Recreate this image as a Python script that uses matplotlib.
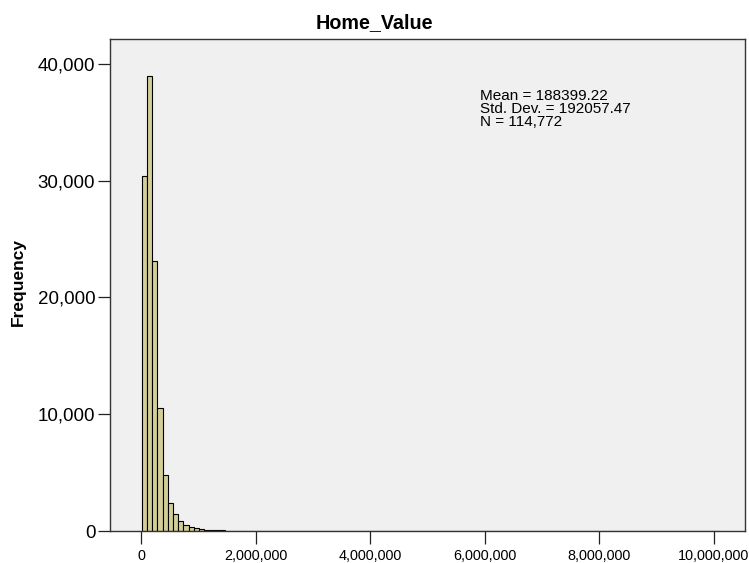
import numpy as np
import matplotlib
matplotlib.use('Agg')
import matplotlib.pyplot as plt
from matplotlib.ticker import FuncFormatter

plt.rcParams['font.family'] = ['Liberation Sans', 'DejaVu Sans']

# histogram of Home_Value, counts per bin
bin_start = 10000
bin_width = 91000
counts = [30430, 38970, 23150, 10540, 4800, 2420, 1430, 830, 510, 370, 230, 150,
          110, 80, 60, 45, 35, 28, 22, 18, 15,
          12, 10, 9, 8, 6, 7, 5, 4, 5, 3,
          3, 2, 3, 2, 2, 1, 2, 1, 1, 1,
          2, 1, 1, 0, 1, 2, 1, 1, 1, 0,
          1, 1, 2, 1, 1, 1, 1, 2, 1, 1,
          1, 1, 1, 2, 1, 1, 1, 1, 1, 1,
          1, 1, 1, 1, 0, 1, 1, 1, 1, 1,
          1, 1, 1, 1, 1, 1, 1, 1, 1, 2,
          2, 0, 0, 0, 2, 1, 0, 0, 0, 0,
          0, 0, 0, 0, 0, 0, 0, 0, 0, 1]

title = 'Home_Value'
stats_lines = ['Mean = 188399.22', 'Std. Dev. = 192057.47', 'N = 114,772']
x_ticks = [0, 2000000, 4000000, 6000000, 8000000, 10000000]
y_ticks = [0, 10000, 20000, 30000, 40000]

counts = np.array(counts)
edges = bin_start + np.arange(len(counts)) * bin_width

fig = plt.figure(figsize=(7.49, 5.63), dpi=100)
ax = fig.add_axes([110 / 749, 1 - 531 / 563, 635 / 749, 492 / 563])
ax.set_facecolor('#f0f0f0')

ax.bar(edges, counts, width=bin_width, align='edge', color='#d3ce97',
       edgecolor='black', linewidth=0.8)

ax.set_xlim(-545000, 10550000)
ax.set_ylim(0, 42140)
ax.set_xticks(x_ticks)
ax.set_yticks(y_ticks)
fmt = FuncFormatter(lambda v, p: f'{int(v):,}')
ax.xaxis.set_major_formatter(fmt)
ax.yaxis.set_major_formatter(fmt)
ax.tick_params(axis='y', direction='out', length=8.6, width=0.9, pad=2,
               labelsize=13.5, color='#222222')
ax.tick_params(axis='x', direction='out', length=9, width=0.9, pad=4,
               labelsize=10.4, color='#222222')
for s in ax.spines.values():
    s.set_color('#333333')
    s.set_linewidth(1.0)

ax.set_ylabel('Frequency', fontsize=12.5, fontweight='bold')
ax.yaxis.set_label_coords(-84 / 635, (531 - 282) / 492)

fig.text(0.5, 1 - 23 / 563, title, ha='center', va='center',
         fontsize=14.2, fontweight='bold')

ax.text(0.583, 0.898, '\n'.join(stats_lines), transform=ax.transAxes,
        ha='left', va='top', fontsize=11, linespacing=0.9)

fig.savefig('out.png', dpi=100)
